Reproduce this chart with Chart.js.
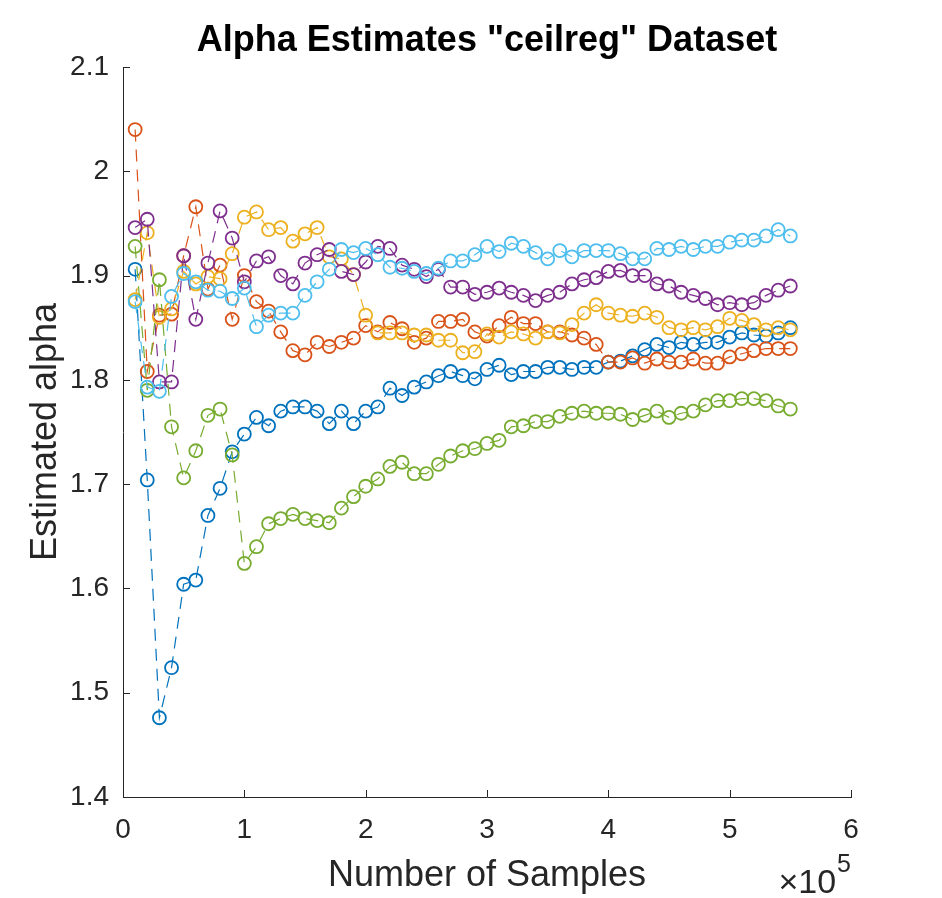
<!DOCTYPE html>
<html>
<head>
<meta charset="utf-8">
<script src="https://cdn.jsdelivr.net/npm/chart.js@4.4.1/dist/chart.umd.min.js"></script>
<style>
  html, body { margin: 0; padding: 0; background: #fff; }
  canvas { display: block; }
</style>
</head>
<body>
<canvas id="alphaChart" width="942" height="898"></canvas>
<script>
// ---- data ----
const samples = [
  10000, 20000, 30000, 40000, 50000, 60000, 70000, 80000, 90000, 100000,
  110000, 120000, 130000, 140000, 150000, 160000, 170000, 180000, 190000, 200000,
  210000, 220000, 230000, 240000, 250000, 260000, 270000, 280000, 290000, 300000,
  310000, 320000, 330000, 340000, 350000, 360000, 370000, 380000, 390000, 400000,
  410000, 420000, 430000, 440000, 450000, 460000, 470000, 480000, 490000, 500000,
  510000, 520000, 530000, 540000, 550000
];

const alphaBlue = [
  1.906, 1.704, 1.476, 1.524, 1.604, 1.608, 1.670, 1.696, 1.731, 1.748,
  1.764, 1.756, 1.770, 1.774, 1.774, 1.770, 1.758, 1.770, 1.758, 1.770,
  1.774, 1.792, 1.785, 1.793, 1.798, 1.804, 1.808, 1.804, 1.801, 1.810,
  1.814, 1.805, 1.808, 1.808, 1.812, 1.812, 1.810, 1.812, 1.812, 1.817,
  1.818, 1.823, 1.829, 1.834, 1.831, 1.836, 1.834, 1.836, 1.836, 1.841,
  1.845, 1.843, 1.842, 1.845, 1.850
];
const alphaOrange = [
  2.040, 1.808, 1.862, 1.863, 1.919, 1.966, 1.887, 1.910, 1.858, 1.900,
  1.875, 1.866, 1.846, 1.828, 1.824, 1.836, 1.832, 1.836, 1.840, 1.852,
  1.846, 1.855, 1.849, 1.836, 1.840, 1.856, 1.856, 1.858, 1.846, 1.842,
  1.852, 1.860, 1.854, 1.854, 1.846, 1.846, 1.843, 1.840, 1.834, 1.817,
  1.817, 1.821, 1.816, 1.820, 1.817, 1.817, 1.820, 1.816, 1.816, 1.822,
  1.825, 1.828, 1.830, 1.830, 1.830
];
const alphaYellow = [
  1.877, 1.941, 1.860, 1.868, 1.904, 1.892, 1.899, 1.897, 1.921, 1.956,
  1.961, 1.944, 1.946, 1.933, 1.940, 1.946, 1.918, 1.916, 1.901, 1.862,
  1.845, 1.845, 1.845, 1.843, 1.843, 1.838, 1.838, 1.826, 1.827, 1.844,
  1.841, 1.846, 1.844, 1.840, 1.846, 1.845, 1.853, 1.864, 1.872, 1.864,
  1.862, 1.861, 1.864, 1.860, 1.850, 1.848, 1.850, 1.848, 1.851, 1.859,
  1.857, 1.853, 1.848, 1.850, 1.848
];
const alphaPurple = [
  1.946, 1.954, 1.798, 1.798, 1.919, 1.858, 1.912, 1.962, 1.936, 1.894,
  1.914, 1.918, 1.900, 1.892, 1.912, 1.920, 1.925, 1.904, 1.901, 1.913,
  1.928, 1.926, 1.910, 1.906, 1.899, 1.906, 1.889, 1.889, 1.882, 1.884,
  1.888, 1.884, 1.881, 1.876, 1.881, 1.884, 1.892, 1.896, 1.898, 1.904,
  1.905, 1.900, 1.900, 1.892, 1.890, 1.884, 1.881, 1.878, 1.872, 1.874,
  1.872, 1.874, 1.881, 1.886, 1.890
];
const alphaGreen = [
  1.928, 1.790, 1.896, 1.755, 1.706, 1.732, 1.766, 1.772, 1.728, 1.624,
  1.640, 1.662, 1.667, 1.671, 1.667, 1.665, 1.663, 1.677, 1.688, 1.698,
  1.705, 1.717, 1.721, 1.710, 1.710, 1.719, 1.727, 1.732, 1.734, 1.739,
  1.742, 1.755, 1.756, 1.760, 1.760, 1.765, 1.768, 1.770, 1.768, 1.768,
  1.767, 1.762, 1.766, 1.770, 1.764, 1.768, 1.770, 1.776, 1.780, 1.780,
  1.782, 1.782, 1.780, 1.775, 1.772
];
const alphaCyan = [
  1.875, 1.793, 1.789, 1.880, 1.902, 1.894, 1.886, 1.885, 1.878, 1.888,
  1.851, 1.862, 1.864, 1.864, 1.881, 1.894, 1.906, 1.925, 1.922, 1.926,
  1.920, 1.908, 1.907, 1.904, 1.902, 1.907, 1.914, 1.914, 1.920, 1.928,
  1.923, 1.931, 1.928, 1.922, 1.916, 1.924, 1.918, 1.924, 1.924, 1.924,
  1.921, 1.916, 1.916, 1.926, 1.925, 1.928, 1.925, 1.928, 1.928, 1.932,
  1.934, 1.934, 1.938, 1.944, 1.938
];

const xTickValues = [0, 100000, 200000, 300000, 400000, 500000, 600000];
const yTickValues = [1.4, 1.5, 1.6, 1.7, 1.8, 1.9, 2.0, 2.1];

const seriesList = [alphaBlue, alphaOrange, alphaYellow, alphaPurple, alphaGreen, alphaCyan];
const seriesColors = ['#0072BD', '#D95319', '#EDB120', '#7E2F8E', '#77AC30', '#4DBEEE'];

const chartTitle = 'Alpha Estimates "ceilreg" Dataset';

const FONT = "'Liberation Sans', Arial, Helvetica, sans-serif";
const INK = '#262626';

// ---- helpers ----
const toPoints = vals => vals.map((v, i) => ({ x: samples[i], y: v }));

// MATLAB-style: title over the axes, inward ticks, x10^5 exponent
const matlabDecor = {
    id: 'matlabDecor',
    afterDraw(chart) {
        const { ctx, chartArea, scales: { x, y } } = chart;
        ctx.save();
        ctx.strokeStyle = INK;
        ctx.lineWidth = 1;
        ctx.beginPath();
        x.ticks.forEach(t => {
            const px = Math.round(x.getPixelForValue(t.value)) + 0.5;
            ctx.moveTo(px, y.bottom);
            ctx.lineTo(px, y.bottom - 7);
        });
        y.ticks.forEach(t => {
            const py = Math.round(y.getPixelForValue(t.value)) + 0.5;
            ctx.moveTo(x.left, py);
            ctx.lineTo(x.left + 7, py);
        });
        ctx.stroke();

        // title
        ctx.fillStyle = '#000';
        ctx.textAlign = 'center';
        ctx.textBaseline = 'alphabetic';
        ctx.font = 'bold 36px ' + FONT;
        ctx.fillText(chartTitle, (chartArea.left + chartArea.right) / 2, 51);

        // exponent
        ctx.fillStyle = INK;
        ctx.textAlign = 'right';
        ctx.font = '25px ' + FONT;
        const supW = ctx.measureText('5').width;
        ctx.fillText('5', x.right, 872);
        ctx.font = '34px ' + FONT;
        ctx.fillText('\u00d710', x.right - supW - 1, 893);
        ctx.restore();
    }
};

new Chart(document.getElementById('alphaChart'), {
    type: 'line',
    data: {
        datasets: seriesList.map((vals, i) => ({
            data: toPoints(vals),
            borderColor: seriesColors[i],
            borderWidth: 1.2,
            borderDash: [12, 8],
            pointStyle: 'circle',
            pointRadius: 6.5,
            pointBorderWidth: 1.8,
            pointBorderColor: seriesColors[i],
            pointBackgroundColor: 'rgba(0,0,0,0)',
            fill: false,
            tension: 0,
            order: seriesList.length - 1 - i,
        })),
    },
    options: {
        responsive: false,
        animation: false,
        layout: { padding: { left: 0, right: 91, top: 67, bottom: 0 } },
        plugins: {
            legend: { display: false },
            tooltip: { enabled: false },
            title: { display: false },
        },
        scales: {
            x: {
                type: 'linear',
                min: 0,
                max: 600000,
                afterBuildTicks: s => { s.ticks = xTickValues.map(v => ({ value: v })); },
                afterFit: s => { s.height = 101; },
                ticks: {
                    color: INK,
                    font: { family: FONT, size: 28 },
                    padding: 16,
                    maxRotation: 0,
                    callback: v => String(v / 100000),
                },
                grid: { display: false, drawTicks: false },
                border: { display: true, color: INK, width: 1 },
                title: {
                    display: true,
                    text: 'Number of Samples',
                    color: INK,
                    font: { family: FONT, size: 36 },
                    padding: { top: 0, bottom: 0 },
                },
            },
            y: {
                type: 'linear',
                min: 1.4,
                max: 2.1,
                afterBuildTicks: s => { s.ticks = yTickValues.map(v => ({ value: v })); },
                afterFit: s => { s.width = 123; },
                ticks: {
                    color: INK,
                    font: { family: FONT, size: 28 },
                    padding: 14,
                    callback: v => String(Number(v.toFixed(1))),
                },
                grid: { display: false, drawTicks: false },
                border: { display: true, color: INK, width: 1 },
                title: {
                    display: true,
                    text: 'Estimated alpha',
                    color: INK,
                    font: { family: FONT, size: 36 },
                    padding: { top: 24, bottom: 0 },
                },
            },
        },
    },
    plugins: [matlabDecor],
});
</script>
</body>
</html>
